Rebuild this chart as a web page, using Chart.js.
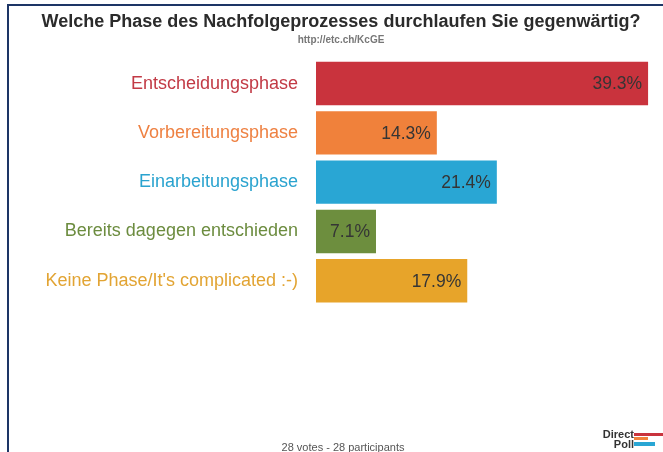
<!DOCTYPE html>
<html>
<head>
<meta charset="utf-8">
<script src="https://cdn.jsdelivr.net/npm/chart.js@4/dist/chart.umd.min.js"></script>
<style>
  html, body { margin: 0; padding: 0; background: #fff; }
  #wrap { position: relative; width: 663px; height: 452px; overflow: hidden; }
  #frame { position: absolute; left: 7px; top: 4px; width: 700px; height: 500px; border-left: 2px solid #1d3566; border-top: 2px solid #1d3566; box-sizing: border-box; pointer-events: none; }
  canvas { position: absolute; left: 0; top: 0; }
</style>
</head>
<body>
<div id="wrap">
  <canvas id="c" width="663" height="452"></canvas>
  <div id="frame"></div>
</div>
<script>
const titleText = "Welche Phase des Nachfolgeprozesses durchlaufen Sie gegenwärtig?";
const subtitleText = "http://etc.ch/KcGE";
const footerText = "28 votes - 28 participants";
const categories = ["Entscheidungsphase", "Vorbereitungsphase", "Einarbeitungsphase", "Bereits dagegen entschieden", "Keine Phase/It's complicated :-)"];
const percentages = [39.3, 14.3, 21.4, 7.1, 17.9];
const barColors = ["#c9333d", "#f0813b", "#29a6d4", "#6d8e3e", "#e7a42a"];
const labelColors = ["#c23a45", "#ee8142", "#2aa3cf", "#6c8c3f", "#e2a433"];

const valueLabels = {
  id: "valueLabels",
  afterDatasetsDraw(chart) {
    const ctx = chart.ctx;
    const meta = chart.getDatasetMeta(0);
    ctx.save();
    ctx.font = "17.5px 'Liberation Sans', Arial, sans-serif";
    ctx.fillStyle = "#353535";
    ctx.textAlign = "right";
    ctx.textBaseline = "middle";
    meta.data.forEach((bar, i) => {
      ctx.fillText(percentages[i].toFixed(1) + "%", bar.x - 6, bar.y + 1);
    });
    ctx.restore();
  }
};

const footer = {
  id: "footer",
  afterDraw(chart) {
    const ctx = chart.ctx;
    ctx.save();
    ctx.font = "11px 'Liberation Sans', Arial, sans-serif";
    ctx.fillStyle = "#555";
    ctx.textAlign = "center";
    ctx.textBaseline = "alphabetic";
    ctx.fillText(footerText, 343, 451);
    // DirectPoll logo
    ctx.font = "bold 11px 'Liberation Sans', Arial, sans-serif";
    ctx.fillStyle = "#333";
    ctx.textAlign = "right";
    ctx.fillText("Direct", 634, 438);
    ctx.fillText("Poll", 634, 448);
    ctx.fillStyle = "#c9333d"; ctx.fillRect(634, 433, 29, 3);
    ctx.fillStyle = "#f0813b"; ctx.fillRect(634, 437, 14, 3);
    ctx.fillStyle = "#29a6d4"; ctx.fillRect(634, 442, 21, 4);
    ctx.restore();
  }
};

new Chart(document.getElementById("c"), {
  type: "bar",
  data: {
    labels: categories,
    datasets: [{
      data: percentages,
      backgroundColor: barColors,
      borderWidth: 0,
      barPercentage: 0.88,
      categoryPercentage: 1.0
    }]
  },
  options: {
    indexAxis: "y",
    responsive: false,
    animation: false,
    devicePixelRatio: 1,
    layout: { padding: { left: 28, right: 9, top: 4, bottom: 146.6 } },
    plugins: {
      legend: { display: false },
      tooltip: { enabled: false },
      title: {
        display: true,
        text: titleText,
        color: "#2b2b2b",
        font: { family: "'Liberation Sans', Arial, sans-serif", size: 18, weight: "bold" },
        padding: { top: 7.5, bottom: 0 }
      },
      subtitle: {
        display: true,
        text: subtitleText,
        color: "#777",
        font: { family: "'Liberation Sans', Arial, sans-serif", size: 10, weight: "bold" },
        padding: { top: 0.9, bottom: 12.9 }
      }
    },
    scales: {
      x: {
        display: false,
        min: 0,
        max: 40
      },
      y: {
        afterFit(axis) { axis.width = 288; },
        grid: { display: false, drawTicks: false },
        border: { display: false },
        ticks: {
          padding: 18,
          font: { family: "'Liberation Sans', Arial, sans-serif", size: 18 },
          color: (ctx) => labelColors[ctx.index]
        }
      }
    }
  },
  plugins: [valueLabels, footer]
});
</script>
</body>
</html>
